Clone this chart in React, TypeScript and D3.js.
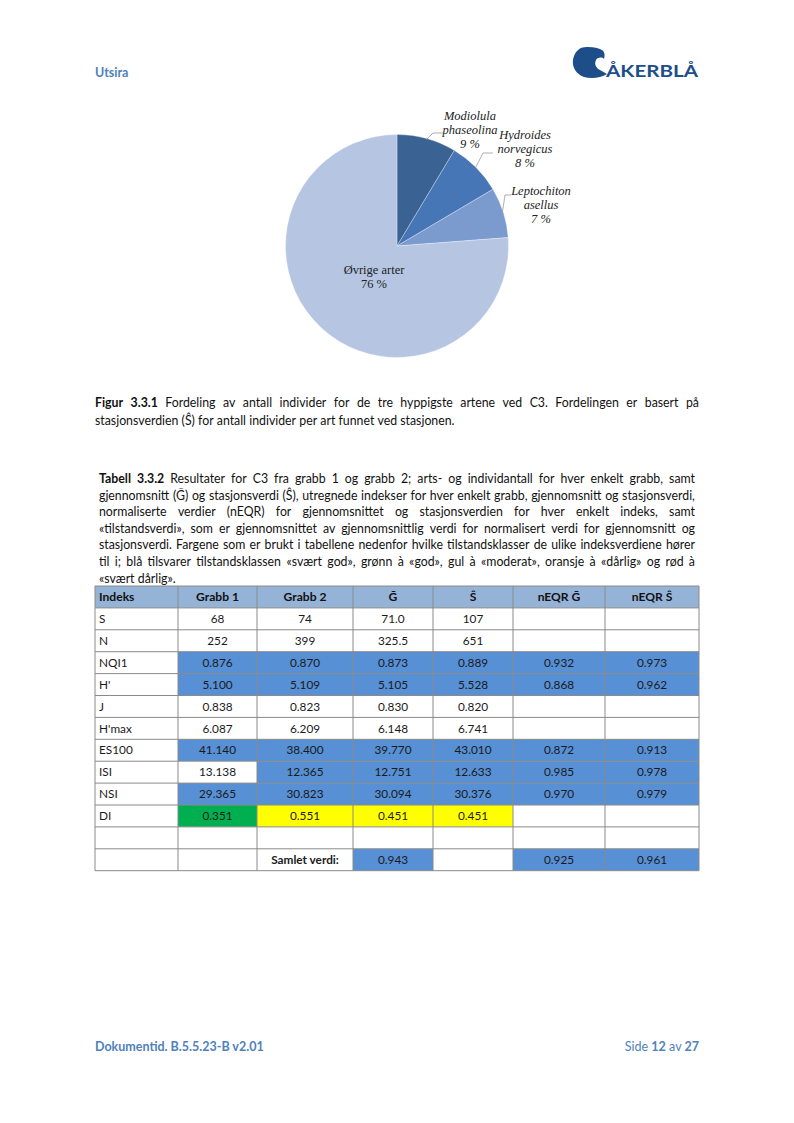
import React, { useMemo } from "react";
import * as d3 from "d3";

// ---------- DATA ----------
const PIE_LABELS = [["Modiolula", "phaseolina"], ["Hydroides", "norvegicus"], ["Leptochiton", "asellus"], ["Øvrige arter"]];
const PIE_VALUES = [8.6, 7.9, 7.3, 76.2];
const PIE_PCT = ["9 %", "8 %", "7 %", "76 %"];
const PIE_COLORS = ["#3a6293", "#4676b5", "#7b9bcf", "#b6c6e2"];

const TABLE_HEAD = ["Indeks", "Grabb 1", "Grabb 2", "Ḡ", "Ŝ", "nEQR Ḡ", "nEQR Ŝ"];
const INDEX = ["S", "N", "NQI1", "H'", "J", "H'max", "ES100", "ISI", "NSI", "DI", "", ""];
const GRABB1 = ["68", "252", "0.876", "5.100", "0.838", "6.087", "41.140", "13.138", "29.365", "0.351", "", ""];
const GRABB2 = ["74", "399", "0.870", "5.109", "0.823", "6.209", "38.400", "12.365", "30.823", "0.551", "", "Samlet verdi:"];
const G_MEAN = ["71.0", "325.5", "0.873", "5.105", "0.830", "6.148", "39.770", "12.751", "30.094", "0.451", "", "0.943"];
const S_STAT = ["107", "651", "0.889", "5.528", "0.820", "6.741", "43.010", "12.633", "30.376", "0.451", "", ""];
const NEQR_G = ["", "", "0.932", "0.868", "", "", "0.872", "0.985", "0.970", "", "", "0.925"];
const NEQR_S = ["", "", "0.973", "0.962", "", "", "0.913", "0.978", "0.979", "", "", "0.961"];
// class per data cell: b = svært god (blå), g = god (grønn), y = moderat (gul)
const CLASSES = [
  "......", "......", "bbbbbb", "bbbbbb", "......", "......",
  "bbbbbb", ".bbbbb", "bbbbbb", "gyyy..", "......", "..b.bb",
];
const CLASS_COLORS: Record<string, string> = { b: "#5790d4", g: "#00b050", y: "#ffff00", ".": "#ffffff" };

const FIG_CAPTION = [
  { parts: [["Figur 3.3.1", true], [" Fordeling av antall individer for de tre hyppigste artene ved C3. Fordelingen er basert på", false]], justify: true },
  { parts: [["stasjonsverdien (Ŝ) for antall individer per art funnet ved stasjonen.", false]], justify: false },
];
const TAB_CAPTION = [
  { parts: [["Tabell 3.3.2", true], [" Resultater for C3 fra grabb 1 og grabb 2; arts- og individantall for hver enkelt grabb, samt", false]], justify: true },
  { parts: [["gjennomsnitt (Ḡ) og stasjonsverdi (Ŝ), utregnede indekser for hver enkelt grabb, gjennomsnitt og stasjonsverdi,", false]], justify: true },
  { parts: [["normaliserte verdier (nEQR) for gjennomsnittet og stasjonsverdien for hver enkelt indeks, samt", false]], justify: true },
  { parts: [["«tilstandsverdi», som er gjennomsnittet av gjennomsnittlig verdi for normalisert verdi for gjennomsnitt og", false]], justify: true },
  { parts: [["stasjonsverdi. Fargene som er brukt i tabellene nedenfor hvilke tilstandsklasser de ulike indeksverdiene hører", false]], justify: true },
  { parts: [["til i; blå tilsvarer tilstandsklassen «svært god», grønn à «god», gul à «moderat», oransje à «dårlig» og rød à", false]], justify: true },
  { parts: [["«svært dårlig».", false]], justify: false },
];

// ---------- LAYOUT ----------
const W = 794, H = 1123;
const FONT = "Lato, 'Open Sans', 'DejaVu Sans', sans-serif";
const SERIF = "'Liberation Serif', 'Times New Roman', serif";
const BLUE_TXT = "#4f81bd";
const PIE = { cx: 397, cy: 246, r: 111.5 };
const PIE_LABEL_POS = [
  { x: 73, y: -126, lead: [36, -113, 46] },
  { x: 128, y: -107, lead: [86, -93, 96] },
  { x: 144, y: -51, lead: [108, -51, 114] },
  { x: -23, y: 28, lead: null },
];
const COL_X = [95, 178, 257, 353, 433, 513, 605, 699];
const TABLE_TOP = 586;
const ROW_H = 21.9;
const BODY_SIZE = 14;

let _ctx: CanvasRenderingContext2D | null = null;
function measure(text: string, font: string) {
  if (!_ctx) _ctx = document.createElement("canvas").getContext("2d");
  _ctx!.font = font;
  return _ctx!.measureText(text).width;
}

type Line = { parts: (string | boolean)[][]; justify: boolean };

function Paragraph({ lines, x0, x1, y0, size, k }: { lines: Line[]; x0: number; x1: number; y0: number[]; size: number; k: number }) {
  const out: React.ReactNode[] = [];
  lines.forEach((ln, li) => {
    const words: { t: string; b: boolean }[] = [];
    ln.parts.forEach(([t, b]) => {
      (t as string).split(" ").forEach((w) => { if (w.length) words.push({ t: w, b: b as boolean }); });
    });
    const widths = words.map((w) => k * measure(w.t, `${w.b ? "bold " : ""}${size}px ${FONT}`));
    const space = k * measure(" ", `${size}px ${FONT}`);
    const total = d3.sum(widths);
    const gap = ln.justify && words.length > 1 ? (x1 - x0 - total) / (words.length - 1) : space;
    let x = x0;
    words.forEach((w, wi) => {
      out.push(
        <text key={`${li}-${wi}`} transform={`translate(${x},${y0[li]}) scale(${k},1)`} fontSize={size} fontWeight={w.b ? "bold" : "normal"} fontFamily={FONT} fill="#111">
          {w.t}
        </text>
      );
      x += widths[wi] + gap;
    });
  });
  return <g>{out}</g>;
}

export default function App() {
  const squeeze = useMemo(() => {
    const w = measure(TAB_CAPTION[1].parts[0][0] as string, `${BODY_SIZE}px ${FONT}`);
    return Math.min(1, 590 / w);
  }, []);

  const pie = d3.pie<number>().sort(null).value((d) => d)(PIE_VALUES);
  const arc = d3.arc<d3.PieArcDatum<number>>().innerRadius(0).outerRadius(PIE.r);

  const cols = [INDEX, GRABB1, GRABB2, G_MEAN, S_STAT, NEQR_G, NEQR_S];
  const xScale = (i: number) => COL_X[i];
  const yRow = d3.scaleLinear().domain([0, 1]).range([TABLE_TOP + ROW_H, TABLE_TOP + 2 * ROW_H]);
  const tsize = 11.8;

  return (
    <svg width={W} height={H} style={{ position: "absolute", left: 0, top: 0, background: "#fff" }}>
      <rect width={W} height={H} fill="#fff" />
      {/* Header */}
      <text x={95} y={77} fontSize={12.5} fontWeight="bold" fontFamily={FONT} fill={BLUE_TXT}>Utsira</text>
      <g transform="translate(573,47)" fill="#1d4e89">
        <path d="M8,1 C14,-1 24,0 29,3 C32,5 32,9 31,12 C29,10 25,10 23,13 C21,17 23,21 27,23 L34,27 C28,31 18,32 11,30 C3,27 -1,20 0,13 C1,7 4,3 8,1 Z" />
      </g>
      <text x={606} y={77} fontSize={17} fontWeight="bold" fontFamily={FONT} fill="#1d4e89" textLength={92} lengthAdjust="spacingAndGlyphs">ÅKERBLÅ</text>

      {/* Pie */}
      <g transform={`translate(${PIE.cx},${PIE.cy})`}>
        {pie.map((d, i) => (
          <path key={i} d={arc(d) || ""} fill={PIE_COLORS[i]} stroke="#ffffff" strokeWidth={0.3} />
        ))}
        {pie.map((d, i) => {
          const p = PIE_LABEL_POS[i];
          const mid = (d.startAngle + d.endAngle) / 2;
          const lines = [...PIE_LABELS[i], PIE_PCT[i]];
          const ax = Math.sin(mid) * PIE.r * 0.99, ay = -Math.cos(mid) * PIE.r * 0.99;
          return (
            <g key={"l" + i}>
              {p.lead && (
                <polyline points={`${ax},${ay} ${p.lead[0]},${p.lead[1]} ${p.lead[2]},${p.lead[1]}`} fill="none" stroke="#999" strokeWidth={0.8} />
              )}
              {lines.map((t, j) => (
                <text key={j} x={p.x} y={p.y + j * 14.2} textAnchor="middle" fontSize={12.5} fontFamily={SERIF}
                  fontStyle={i < 3 ? "italic" : "normal"} fill="#222">
                  {t}
                </text>
              ))}
            </g>
          );
        })}
      </g>

      {/* Figure caption */}
      <Paragraph lines={FIG_CAPTION as any} x0={95} x1={699} y0={[407, 425]} size={BODY_SIZE} k={squeeze} />

      {/* Table caption */}
      <Paragraph lines={TAB_CAPTION as any} x0={99} x1={695} y0={[483, 499.6, 516.2, 532.8, 549.4, 566, 583]} size={BODY_SIZE} k={squeeze} />

      {/* Table */}
      <g>
        <rect x={COL_X[0]} y={TABLE_TOP} width={COL_X[7] - COL_X[0]} height={ROW_H} fill="#95b3d7" />
        {INDEX.map((_, r) =>
          CLASSES[r].split("").map((c, ci) => (
            <rect key={`c${r}-${ci}`} x={xScale(ci + 1)} y={yRow(r)} width={xScale(ci + 2) - xScale(ci + 1)} height={ROW_H} fill={CLASS_COLORS[c]} />
          ))
        )}
        {d3.range(INDEX.length + 2).map((r) => (
          <line key={`h${r}`} x1={COL_X[0]} x2={COL_X[7]} y1={TABLE_TOP + r * ROW_H} y2={TABLE_TOP + r * ROW_H} stroke="#8a8a8a" strokeWidth={1} />
        ))}
        {COL_X.map((x, i) => (
          <line key={`v${i}`} x1={x} x2={x} y1={TABLE_TOP} y2={TABLE_TOP + (INDEX.length + 1) * ROW_H} stroke="#8a8a8a" strokeWidth={1} />
        ))}
        {TABLE_HEAD.map((t, i) => (
          <text key={`th${i}`} x={i === 0 ? COL_X[0] + 4 : (COL_X[i] + COL_X[i + 1]) / 2} y={TABLE_TOP + ROW_H / 2 + 4.3}
            textAnchor={i === 0 ? "start" : "middle"} fontSize={tsize + 0.3} fontWeight="bold" fontFamily={FONT} fill="#111">
            {t}
          </text>
        ))}
        {cols.map((col, ci) =>
          col.map((v, r) => (
            <text key={`t${ci}-${r}`} x={ci === 0 ? COL_X[0] + 4 : (COL_X[ci] + COL_X[ci + 1]) / 2} y={yRow(r) + ROW_H / 2 + 4.2}
              textAnchor={ci === 0 ? "start" : "middle"} fontSize={tsize} fontWeight={v === "Samlet verdi:" ? "bold" : "normal"}
              fontFamily={FONT} fill="#1a1a1a">
              {v}
            </text>
          ))
        )}
      </g>

      {/* Footer */}
      <text x={95} y={1051} fontSize={12.5} fontWeight="bold" fontFamily={FONT} fill={BLUE_TXT}>Dokumentid. B.5.5.23-B v2.01</text>
      <text x={699} y={1051} fontSize={12.5} fontFamily={FONT} fill={BLUE_TXT} textAnchor="end">
        Side <tspan fontWeight="bold">12</tspan> av <tspan fontWeight="bold">27</tspan>
      </text>
    </svg>
  );
}
